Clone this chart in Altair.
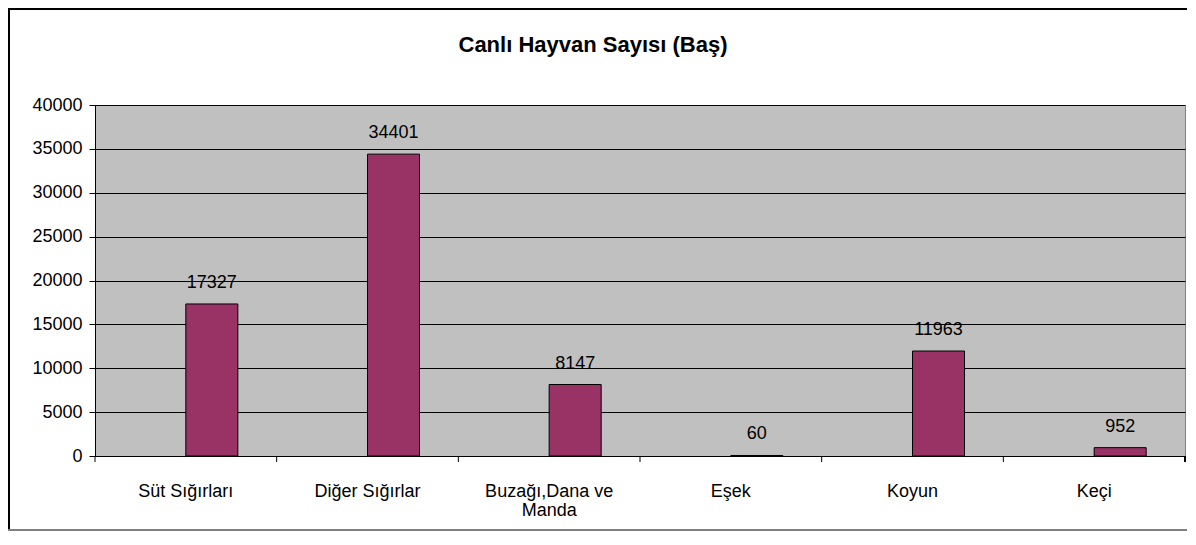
import altair as alt
import pandas as pd

title_text = "Canlı Hayvan Sayısı (Baş)"
categories = ["Süt Sığırları", "Diğer Sığırlar", "Buzağı,Dana ve Manda", "Eşek", "Koyun", "Keçi"]
values = [17327, 34401, 8147, 60, 11963, 952]
y_ticks = [0, 5000, 10000, 15000, 20000, 25000, 30000, 35000, 40000]

df = pd.DataFrame({"cat": categories, "val": values})
title_df = pd.DataFrame({"t": [title_text]})

FONT = "Liberation Sans"
FS = 18
W, H = 1090, 351

x_enc = alt.X(
    "cat:N",
    sort=categories,
    title=None,
    scale=alt.Scale(paddingInner=0, paddingOuter=0),
    axis=alt.Axis(
        labelAngle=0,
        ticks=False,
        domain=True,
        domainColor="black",
        domainWidth=1,
        labelFont=FONT,
        labelFontSize=FS,
        labelColor="black",
        labelPadding=26,
        labelLineHeight=19,
        labelExpr="datum.value == 'Buzağı,Dana ve Manda' ? ['Buzağı,Dana ve', 'Manda'] : datum.label",
    ),
)
y_enc = alt.Y(
    "val:Q",
    title=None,
    scale=alt.Scale(domain=[0, 40000], nice=False),
    axis=alt.Axis(
        values=y_ticks,
        format="d",
        grid=True,
        gridColor="black",
        gridOpacity=1,
        gridWidth=1,
        domain=True,
        domainColor="black",
        tickColor="black",
        tickSize=6,
        labelPadding=7,
        labelFont=FONT,
        labelFontSize=FS,
        labelColor="black",
    ),
)

base = alt.Chart(df)

bars = base.mark_bar(
    color="#993366", stroke="black", strokeWidth=1, size=52, xOffset=26
).encode(x=x_enc, y=y_enc)

labels = base.mark_text(
    font=FONT, fontSize=FS, color="black", baseline="bottom", dy=-12, dx=26
).encode(x=alt.X("cat:N", sort=categories), y=alt.Y("val:Q"), text=alt.Text("val:Q", format="d"))

xticks = base.mark_rule(color="black", strokeWidth=1).encode(
    x=alt.X("cat:N", sort=categories, bandPosition=0),
    y=alt.value(H),
    y2=alt.value(H + 6),
)
xtick_end = base.mark_rule(color="black", strokeWidth=1).encode(
    x=alt.value(W), y=alt.value(H), y2=alt.value(H + 6)
)

title_mark = alt.Chart(title_df).mark_text(
    font=FONT, fontSize=22, fontWeight="bold", color="black", baseline="middle", align="center"
).encode(x=alt.value(498), y=alt.value(-60), text="t:N")

# outer chart frame (decoration)
frame_left = base.mark_rule(color="black", strokeWidth=2).encode(
    x=alt.value(-86), y=alt.value(-96), y2=alt.value(425)
)
frame_top = base.mark_rule(color="black", strokeWidth=2).encode(
    x=alt.value(-87), x2=alt.value(W + 2), y=alt.value(-96)
)
frame_bottom = base.mark_rule(color="#808080", strokeWidth=2).encode(
    x=alt.value(-87), x2=alt.value(W + 2), y=alt.value(425)
)

chart = (
    alt.layer(bars, labels, xticks, xtick_end, title_mark, frame_left, frame_top, frame_bottom)
    .properties(
        width=W,
        height=H,
        padding={"left": 87, "top": 97, "right": 2, "bottom": 75},
        autosize=alt.AutoSizeParams(type="none"),
        background="white",
    )
    .configure_view(fill="#C0C0C0", stroke="#808080", strokeWidth=1)
)

chart.save("out.html", embed_options={"renderer": "svg", "actions": False})
